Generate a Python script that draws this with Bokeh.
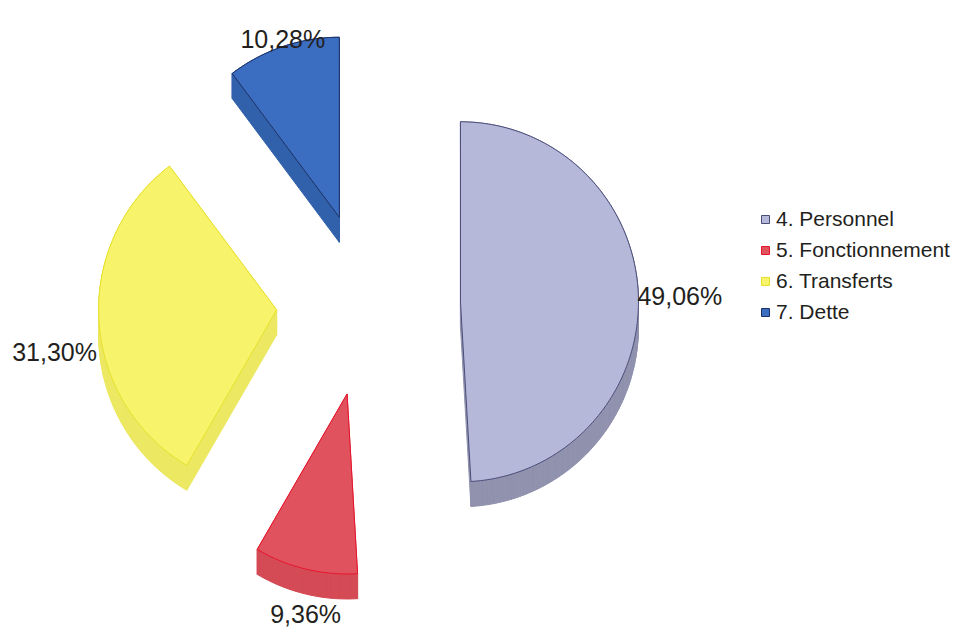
import numpy as np
from bokeh.plotting import figure
from bokeh.models import Range1d, ColumnDataSource
from bokeh.embed import file_html
from bokeh.resources import INLINE
from bokeh.core.properties import value

# ---- data ----
categories = ["4. Personnel", "5. Fonctionnement", "6. Transferts", "7. Dette"]
shares = [49.06, 9.36, 31.30, 10.28]
labels = ["49,06%", "9,36%", "31,30%", "10,28%"]

# ---- styles ----
top_colors = ["#B6B8D9", "#E0535E", "#F7F46C", "#3B6EC0"]
side_colors = ["#9092AE", "#D44A55", "#ECE862", "#3261AC"]
edge_colors = ["#4A4D78", "#E8142C", "#E6E02A", "#1C2F63"]
label_align = ["left", "center", "right", "center"]
label_base = ["middle", "top", "middle", "alphabetic"]
label_nudge = [(-1, 0), (0, 31), (-2, 32), (0, -8)]

W, H = 960, 627
CX, CY = 368, 304      # pie centre (screen px)
RX, RY = 178, 180      # radii
EXPLODE = 92
DEPTH = 25
FONT = "Liberation Sans"

p = figure(width=W, height=H, x_range=Range1d(0, W), y_range=Range1d(H, 0),
           output_backend="svg", toolbar_location=None,
           x_axis_location=None, y_axis_location=None, min_border=0)
p.grid.visible = False
p.outline_line_color = None
p.background_fill_color = "white"

fr = np.array(shares) / sum(shares)
ends = np.cumsum(fr) * 2 * np.pi
starts = ends - fr * 2 * np.pi
mids = (starts + ends) / 2

top_xs, top_ys = [], []
q_xs, q_ys, q_col = [], [], []
lab_x, lab_y = [], []
for i in range(len(shares)):
    m = mids[i]
    ax = CX + EXPLODE * np.sin(m)
    ay = CY - EXPLODE * np.cos(m)
    n = max(10, int(np.degrees(ends[i] - starts[i])))
    th = np.linspace(starts[i], ends[i], n)
    xs = np.concatenate([[ax], ax + RX * np.sin(th)])
    ys = np.concatenate([[ay], ay - RY * np.cos(th)])
    top_xs.append(list(xs))
    top_ys.append(list(ys))
    k = len(xs)
    for j in range(k):
        x0, y0 = xs[j], ys[j]
        x1, y1 = xs[(j + 1) % k], ys[(j + 1) % k]
        q_xs.append([x0, x1, x1, x0])
        q_ys.append([y0, y1, y1 + DEPTH, y0 + DEPTH])
        q_col.append(side_colors[i])
    lab_x.append(ax + RX * np.sin(m) + label_nudge[i][0])
    lab_y.append(ay - RY * np.cos(m) + label_nudge[i][1])

p.patches(q_xs, q_ys, fill_color=q_col, line_color=q_col, line_width=1)

src = ColumnDataSource(dict(xs=top_xs, ys=top_ys, name=categories,
                            fill=top_colors, edge=edge_colors))
p.patches("xs", "ys", source=src, fill_color="fill", line_color="edge",
          line_width=1, legend_field="name")

for i in range(len(labels)):
    p.text([lab_x[i]], [lab_y[i]], text=[labels[i]], text_font=value(FONT),
           text_font_size="25px", text_color="#231F20",
           text_align=label_align[i], text_baseline=label_base[i])

lg = p.legend[0]
lg.location = (760, 303)
lg.padding = 0
lg.margin = 0
lg.border_line_alpha = 0
lg.background_fill_alpha = 0
lg.glyph_width = 10
lg.glyph_height = 10
lg.label_standoff = 6
lg.spacing = 7
lg.label_text_font = FONT
lg.label_text_font_size = "21px"
lg.label_text_color = "#231F20"

open("out.html", "w").write(file_html(p, INLINE))
